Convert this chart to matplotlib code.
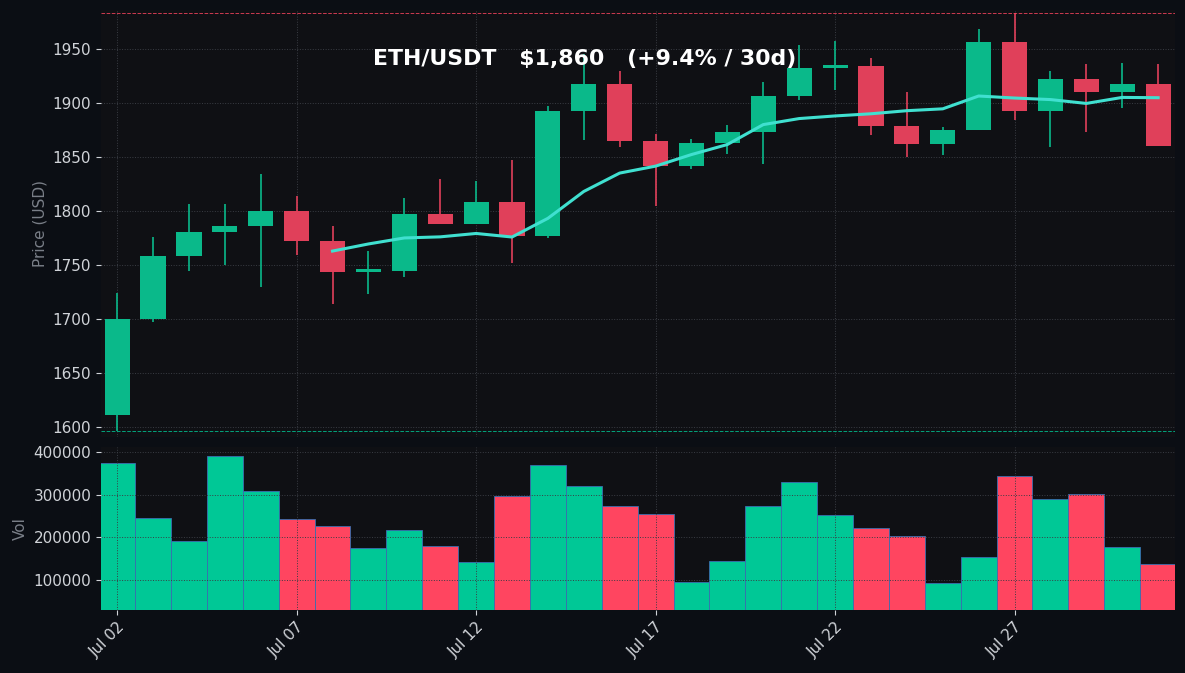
import matplotlib
matplotlib.use("Agg")
import matplotlib.pyplot as plt
import matplotlib.dates as mdates
import numpy as np
import pandas as pd

dates = pd.date_range("2024-07-02", periods=30, freq="D")
opens  = [1611,1700,1758,1781,1786,1800,1772,1744,1745,1797,1788,1808,1777,1893,1918,1865,1842,1863,1873,1906,1932,1934,1879,1862,1875,1956,1893,1922,1910,1918]
closes = [1700,1758,1781,1786,1800,1772,1744,1746,1797,1788,1808,1777,1893,1918,1865,1842,1863,1873,1906,1932,1935,1879,1862,1875,1956,1893,1922,1910,1918,1860]
highs  = [1724,1776,1807,1807,1834,1814,1786,1763,1812,1830,1828,1847,1897,1945,1930,1871,1867,1880,1919,1954,1957,1942,1910,1878,1968,1983,1930,1936,1937,1936]
lows   = [1597,1697,1745,1750,1730,1759,1714,1723,1739,1788,1788,1752,1775,1866,1859,1805,1839,1853,1844,1903,1912,1870,1850,1852,1875,1884,1859,1873,1895,1860]
volumes = [374000,245000,191000,390000,308000,243000,226000,175000,217000,180000,142000,297000,369000,320000,273000,255000,95000,145000,273000,329000,252000,222000,203000,93000,154000,343000,290000,301000,177000,137000]
vol_up = [True,True,True,True,True,False,False,True,True,False,True,False,True,True,False,False,True,True,True,True,True,False,False,True,True,False,True,False,True,False]

BG = "#0b0e14"; AX = "#0f1014"
CG, CR = "#0ab98a", "#e0405a"
VG, VR = "#00c896", "#ff4560"

fig = plt.figure(figsize=(11.85, 6.73), dpi=100, facecolor=BG)
ax = fig.add_axes([101/1185, 1-437/673, 1074/1185, 427/673], facecolor=AX)
axv = fig.add_axes([101/1185, 1-610/673, 1074/1185, 163/673], facecolor=AX, sharex=ax)

x = mdates.date2num(dates)
for xi, o, c, h, l in zip(x, opens, closes, highs, lows):
    col = CG if c >= o else CR
    ax.vlines(xi, l, h, color=col, lw=1.2, zorder=2)
    ax.bar(xi, max(abs(c - o), 1.5), bottom=min(o, c), width=0.7, color=col, zorder=3)

ma = pd.Series(closes).rolling(7).mean()
ax.plot(x, ma, color="#40e0d0", lw=2.2, zorder=4)
ax.axhline(max(highs), color="#ff4560", ls="--", lw=0.7, alpha=0.8)
ax.axhline(min(lows), color="#00c896", ls="--", lw=0.7, alpha=0.8)

axv.bar(x, volumes, width=1.0, color=[VG if u else VR for u in vol_up], edgecolor="#3a6fb0", linewidth=0.6)

ax.set_ylim(1591, 1986)
ax.set_yticks([1600,1650,1700,1750,1800,1850,1900,1950])
axv.set_ylim(29700, 411700)
axv.set_yticks([100000,200000,300000,400000])
ax.set_xlim(x[0]-0.45, x[-1]+0.47)
ax.set_ylabel("Price (USD)", color="#7a7f88", fontsize=11)
axv.set_ylabel("Vol", color="#7a7f88", fontsize=11)
ax.text(0.4507, 0.872, "ETH/USDT   $1,860   (+9.4% / 30d)", transform=ax.transAxes, ha="center",
        color="white", fontsize=15.8, fontweight="bold")

axv.xaxis.set_major_locator(mdates.DayLocator(bymonthday=[2,7,12,17,22,27]))
axv.xaxis.set_major_formatter(mdates.DateFormatter("%b %d"))
plt.setp(ax.get_xticklabels(), visible=False)
plt.setp(axv.get_xticklabels(), rotation=45, ha="right", rotation_mode="anchor")

for a in (ax, axv):
    a.grid(True, color="#3a3d44", ls=":", lw=0.7)
    a.tick_params(colors="#d0d3d8", labelsize=11)
    for s in a.spines.values():
        s.set_visible(False)
ax.tick_params(axis="x", length=0)

fig.savefig("out.png", dpi=100, facecolor=BG)
